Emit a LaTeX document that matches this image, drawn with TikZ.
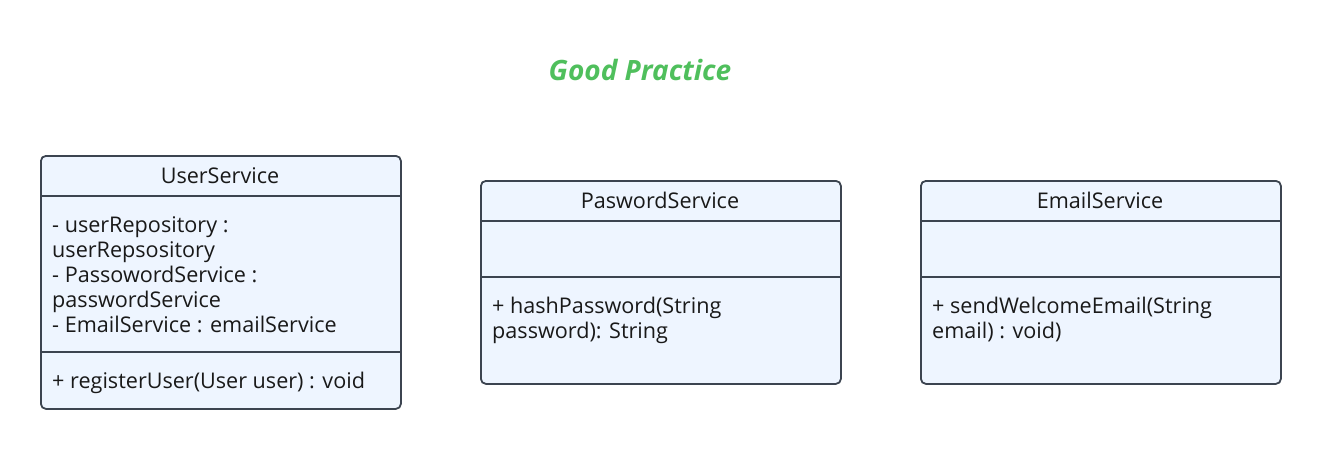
\documentclass[tikz,border=0pt]{standalone}
\usepackage{fontspec}
\setmainfont{Open Sans}
\definecolor{boxfill}{HTML}{EEF5FF}
\definecolor{boxline}{HTML}{3C4450}
\definecolor{titlegreen}{HTML}{4FBF5C}
\begin{document}
\begin{tikzpicture}[x=1pt,y=-1pt,
  classbox/.style={draw=boxline, fill=boxfill, line width=1.8pt, rounded corners=5pt, inner sep=0pt, anchor=north west},
  sepline/.style={draw=boxline, line width=1.8pt},
  txt/.style={anchor=base west, inner sep=0pt, font=\fontsize{21.6}{25}\selectfont, text=black!90},
  hdr/.style={anchor=base, inner sep=0pt, font=\fontsize{21.6}{25}\selectfont, text=black!90}]
\useasboundingbox (0,0) rectangle (1320,448);
\node[anchor=base, inner sep=0pt, font=\fontsize{28}{32}\selectfont\bfseries\itshape, text=titlegreen] (title) at (640,80) {Good Practice};
% UserService
\node[classbox, minimum width=360pt, minimum height=253pt] (us) at (40,155) {};
\draw[sepline] (40,196) -- (400,196);
\draw[sepline] (40,352) -- (400,352);
\node[hdr] (usn) at (220,183) {UserService};
\node[txt] (usa1) at (52,232) {- userRepository :};
\node[txt] (usa2) at (52,257) {userRepsository};
\node[txt] (usa3) at (52,282) {- PassowordService :};
\node[txt] (usa4) at (52,307) {passwordService};
\node[txt] (usa5) at (52,332) {- EmailService : emailService};
\node[txt] (usm1) at (52,388) {+ registerUser(User user) : void};
% PaswordService
\node[classbox, minimum width=360pt, minimum height=203pt] (ps) at (480,180) {};
\draw[sepline] (480,221) -- (840,221);
\draw[sepline] (480,277) -- (840,277);
\node[hdr] (psn) at (660,208) {PaswordService};
\node[txt] (psm1) at (492,313) {+ hashPassword(String};
\node[txt] (psm2) at (492,338) {password): String};
% EmailService
\node[classbox, minimum width=360pt, minimum height=203pt] (es) at (920,180) {};
\draw[sepline] (920,221) -- (1280,221);
\draw[sepline] (920,277) -- (1280,277);
\node[hdr] (esn) at (1100,208) {EmailService};
\node[txt] (esm1) at (932,313) {+ sendWelcomeEmail(String};
\node[txt] (esm2) at (932,338) {email) : void)};
\end{tikzpicture}
\end{document}
